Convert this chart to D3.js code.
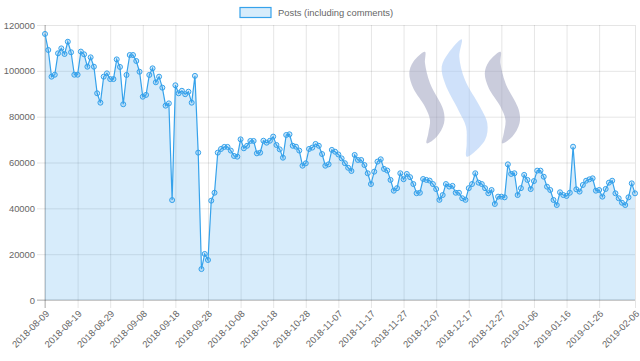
<!DOCTYPE html>
<html><head><meta charset="utf-8">
<script src="https://cdn.jsdelivr.net/npm/d3@7/dist/d3.min.js"></script>
<style>body{margin:0;background:#fff}svg{display:block;font-family:"Liberation Sans",Arial,Helvetica,sans-serif}</style>
</head><body><svg id="c" width="640" height="361"></svg>
<script>
const startDate = "2018-08-09";
const endDate = "2019-02-06";
const seriesName = "Posts (including comments)";
const posts = [
116100,109100,97450,98300,107650,109800,107350,112700,108100,98300,
98300,108400,107200,101800,105900,101800,90200,86100,97450,98900,
96400,96400,105000,101700,85400,98200,106900,106900,104300,99600,
88700,89500,98200,101100,95000,97450,92650,84800,85800,43600,
93700,90200,91300,89800,90900,86100,97800,64300,13500,20100,
17450,43350,46800,64300,65900,66800,66800,65200,62850,62550,
70100,66200,67300,69400,69400,64000,64300,69500,68650,69500,
71300,67650,65750,62100,72000,72300,67300,66900,65200,58600,
59650,65900,66500,68100,67300,63700,58600,59200,65500,64700,
63500,61800,59700,57700,56300,63300,61100,61100,58900,55300,
50600,56000,60400,61400,57200,56500,52400,47700,48800,55300,
52700,55000,53600,50600,46600,46800,52800,52400,52100,50600,
48400,43700,45800,50600,49500,49800,46800,46800,44400,43700,
48800,50600,55300,51200,50600,48800,46600,48000,41900,45100,
45100,44800,59200,55000,55300,45800,48800,54600,52400,48400,
51900,56450,56450,53800,49450,48000,43650,41450,47000,45800,
45400,46800,66900,48300,47300,50200,52050,52650,53100,47700,
48000,45100,48450,51200,52050,46550,44400,42450,41450,44800,
50900,46550
];
const xTickLabels = ["2018-08-09","2018-08-19","2018-08-29","2018-09-08","2018-09-18","2018-09-28",
"2018-10-08","2018-10-18","2018-10-28","2018-11-07","2018-11-17","2018-11-27","2018-12-07",
"2018-12-17","2018-12-27","2019-01-06","2019-01-16","2019-01-26","2019-02-06"];
const yTicks = [0,20000,40000,60000,80000,100000,120000];

const parse = d3.timeParse("%Y-%m-%d"), fmt = d3.timeFormat("%Y-%m-%d");
const dates = d3.timeDay.range(parse(startDate), d3.timeDay.offset(parse(endDate), 1)).map(fmt);
const data = dates.map((d, i) => ({date: d, value: posts[i]}));

const svg = d3.select("#c");
const L = 45, R = 635, T = 25, B = 300;
const x = d3.scalePoint().domain(dates).range([L, R]).padding(0);
const y = d3.scaleLinear().domain([0, 120000]).range([B, T]);
const color = "#36a2eb";
const fs = 9.4;

// grid / axes
const gy = svg.append("g").attr("transform", `translate(37,0)`)
  .call(d3.axisLeft(y).tickValues(yTicks).tickSize(-(R - 37)).tickPadding(2).tickFormat(d3.format("d")));
gy.select(".domain").remove();
gy.selectAll("line").attr("stroke", "rgba(0,0,0,0.1)");
gy.selectAll("text").attr("fill", "#666").style("font-size", fs + "px").style("font-family", "Liberation Sans, Arial");

const gx = svg.append("g").attr("transform", `translate(0,${B + 8})`)
  .call(d3.axisBottom(x).tickValues(xTickLabels).tickSize(-(B + 8 - T)).tickPadding(0));
gx.select(".domain").remove();
gx.selectAll("line").attr("stroke", "rgba(0,0,0,0.1)");
gx.selectAll("text").attr("fill", "#666").style("font-size", fs + "px").style("font-family", "Liberation Sans, Arial")
  .attr("y", 0).attr("dy", "0.35em").style("text-anchor", "end")
  .attr("transform", "translate(2,4) rotate(-45)");

// logo watermark (semi-transparent, over the grid)
const logo = svg.append("g");
const sL = [[425,51.7],[425,63.3],[430,83.3],[443.3,110],[444,123.3],[436.7,136.7],[426.7,143.3],[428.3,133.3],[430,120],[425,106.7],[413.3,88.3],[409.3,73.3],[413.3,61.7]];
const sM = [[461.7,39.3],[459.3,56.7],[465,80],[480,106.7],[487.3,123.3],[485,140],[466.7,156.7],[466.7,143.3],[466,126.7],[458.3,110],[445,83.3],[441.7,66.7],[448.3,53.3]];
const shape = d3.line().curve(d3.curveCatmullRomClosed.alpha(0.5));
logo.append("path").attr("d", shape(sL)).attr("fill", "rgb(150,153,185)").attr("fill-opacity", 0.5);
logo.append("path").attr("d", shape(sM)).attr("fill", "rgb(160,195,245)").attr("fill-opacity", 0.5);
logo.append("path").attr("d", shape(sL.map(p => [p[0] + 75.5, p[1]]))).attr("fill", "rgb(150,153,185)").attr("fill-opacity", 0.5);

// zero lines
svg.append("line").attr("x1", 37).attr("x2", R).attr("y1", y(0)).attr("y2", y(0)).attr("stroke", "rgba(0,0,0,0.25)");
svg.append("line").attr("x1", x(dates[0])).attr("x2", x(dates[0])).attr("y1", T).attr("y2", B + 8).attr("stroke", "rgba(0,0,0,0.25)");

// area + line
svg.append("path").datum(data)
  .attr("d", d3.area().x(d => x(d.date)).y0(y(0)).y1(d => y(d.value)))
  .attr("fill", "rgba(54,162,235,0.2)");
svg.append("path").datum(data)
  .attr("d", d3.line().x(d => x(d.date)).y(d => y(d.value)))
  .attr("fill", "none").attr("stroke", color).attr("stroke-width", 1.2);
svg.append("g").selectAll("circle").data(data).join("circle")
  .attr("cx", d => x(d.date)).attr("cy", d => y(d.value)).attr("r", 2.5)
  .attr("fill", "rgba(54,162,235,0.2)").attr("stroke", color).attr("stroke-width", 1);

// legend
const lg = svg.append("g");
lg.append("rect").attr("x", 240).attr("y", 7.5).attr("width", 31).attr("height", 10)
  .attr("fill", "rgba(54,162,235,0.2)").attr("stroke", color).attr("stroke-width", 1.2);
lg.append("text").attr("x", 278).attr("y", 12.5).attr("dy", "0.35em").attr("fill", "#666")
  .style("font-size", fs + "px").text(seriesName);
</script></body></html>
